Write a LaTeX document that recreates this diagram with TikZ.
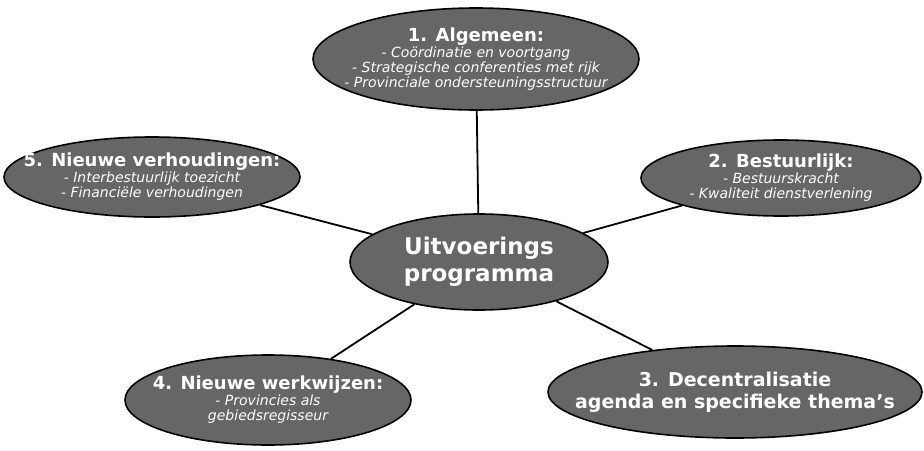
\documentclass[tikz,border=0pt]{standalone}
\usepackage{fontspec}
\setmainfont{DejaVu Sans}
\usetikzlibrary{shapes.geometric}

\newcommand{\kop}[1]{{\fontsize{18}{19}\selectfont\upshape\bfseries #1}}

\begin{document}
\begin{tikzpicture}[x=1pt,y=-1pt,
        bubble/.style={ellipse,draw=black,line width=1.6pt,fill=black!60,inner sep=0pt},
        label/.style={text=white,align=center,inner sep=0pt,font=\fontsize{14}{15}\selectfont\itshape},
        link/.style={draw=black,line width=1.8pt}]
        \useasboundingbox (0,0) rectangle (924,450);
        % ellipses
        \node [bubble,minimum width=326,minimum height=102] (alg) at (476,59) {};
        \node [bubble,minimum width=296,minimum height=80] (verh) at (152,177) {};
        \node [bubble,minimum width=280,minimum height=76] (best) at (781,178) {};
        \node [bubble,minimum width=258,minimum height=96] (prog) at (479,262) {};
        \node [bubble,minimum width=286,minimum height=90] (werk) at (268,400) {};
        \node [bubble,minimum width=374,minimum height=92] (dec) at (735,392) {};
        % texts
        \node [label] (alg-t) at (alg) {\kop{1. Algemeen:}\\[1pt]- Coördinatie en voortgang\\- Strategische conferenties met rijk\\- Provinciale ondersteuningsstructuur};
        \node [label] (verh-t) at (verh) {\kop{5. Nieuwe verhoudingen:}\\[1pt]- Interbestuurlijk toezicht\\- Financiële verhoudingen};
        \node [label] (best-t) at (best) {\kop{2. Bestuurlijk:}\\[1pt]- Bestuurskracht\\- Kwaliteit dienstverlening};
        \node [label,font=\fontsize{23}{27}\selectfont\bfseries] (prog-t) at (prog) {Uitvoerings\\programma};
        \node [label] (werk-t) at (werk) {\kop{4. Nieuwe werkwijzen:}\\[1pt]- Provincies als\\gebiedsregisseur};
        \node [label,font=\fontsize{19}{22}\selectfont\bfseries] (dec-t) at (dec) {3. Decentralisatie\\agenda en specifieke thema's};
        % spokes
        \draw [link] (prog) -- (alg);
        \draw [link] (prog) -- (verh);
        \draw [link] (prog) -- (best);
        \draw [link] (prog) -- (werk);
        \draw [link] (prog) -- (dec);
    \end{tikzpicture}
\end{document}
